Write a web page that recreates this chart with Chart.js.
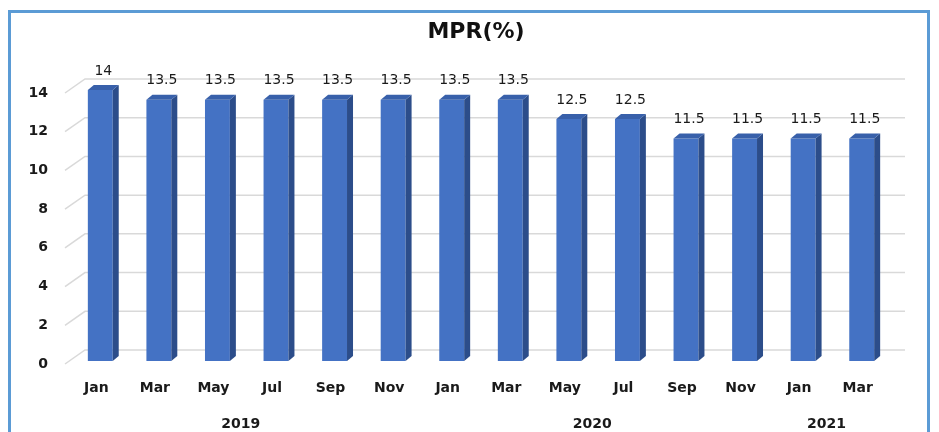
<!DOCTYPE html>
<html>
<head>
<meta charset="utf-8">
<script src="https://cdn.jsdelivr.net/npm/chart.js@4.4.1/dist/chart.umd.min.js"></script>
<style>
  html, body { margin: 0; padding: 0; background: #fff; }
  canvas { display: block; }
</style>
</head>
<body>
<canvas id="mprChart" width="939" height="432"></canvas>
<script>
// chart data
const months = ["Jan", "Mar", "May", "Jul", "Sep", "Nov", "Jan", "Mar", "May", "Jul", "Sep", "Nov", "Jan", "Mar"];
const mprValues = [14, 13.5, 13.5, 13.5, 13.5, 13.5, 13.5, 13.5, 12.5, 12.5, 11.5, 11.5, 11.5, 11.5];
const yearLabels = ["2019", "2020", "2021"];
const yearSpans = [[0, 5], [6, 11], [12, 13]];
const yTicks = [0, 2, 4, 6, 8, 10, 12, 14];

const FONT = "'DejaVu Sans', sans-serif";
const DEPTH_X = 6, DEPTH_Y = 5;   // bar depth
const WALL_X = 14, WALL_Y = 11;   // back wall offset

// frame, title, back wall gridlines
const backdropPlugin = {
  id: "backdrop",
  beforeDraw(chart) {
    const ctx = chart.ctx;
    ctx.save();
    ctx.fillStyle = "#fff";
    ctx.fillRect(0, 0, chart.width, chart.height);
    ctx.strokeStyle = "#5B9BD5";
    ctx.lineWidth = 3;
    ctx.strokeRect(9.5, 11.5, 919, 460);
    ctx.fillStyle = "#111";
    ctx.font = "bold 22px " + FONT;
    ctx.textAlign = "center";
    ctx.textBaseline = "middle";
    ctx.fillText("MPR(%)", 476, 32);
    ctx.restore();
  },
  beforeDatasetsDraw(chart) {
    const { ctx, chartArea, scales } = chart;
    ctx.save();
    ctx.strokeStyle = "#D9D9D9";
    ctx.lineWidth = 1.5;
    yTicks.forEach((v) => {
      const y = scales.y.getPixelForValue(v);
      ctx.beginPath();
      ctx.moveTo(chartArea.left - 6, y + 3);
      ctx.lineTo(chartArea.left + WALL_X, y - WALL_Y);
      ctx.lineTo(chartArea.right + WALL_X, y - WALL_Y);
      ctx.stroke();
    });
    ctx.restore();
  },
  afterDatasetsDraw(chart) {
    const { ctx, scales } = chart;
    const meta = chart.getDatasetMeta(0);
    ctx.save();
    meta.data.forEach((bar, i) => {
      const half = bar.width / 2;
      const l = bar.x - half, r = bar.x + half;
      // side face
      ctx.fillStyle = "#2C4D8A";
      ctx.beginPath();
      ctx.moveTo(r, bar.y);
      ctx.lineTo(r + DEPTH_X, bar.y - DEPTH_Y);
      ctx.lineTo(r + DEPTH_X, bar.base - DEPTH_Y);
      ctx.lineTo(r, bar.base);
      ctx.closePath();
      ctx.fill();
      // top face
      ctx.fillStyle = "#3860AA";
      ctx.beginPath();
      ctx.moveTo(l, bar.y);
      ctx.lineTo(l + DEPTH_X, bar.y - DEPTH_Y);
      ctx.lineTo(r + DEPTH_X, bar.y - DEPTH_Y);
      ctx.lineTo(r, bar.y);
      ctx.closePath();
      ctx.fill();
      // value label
      ctx.fillStyle = "#1a1a1a";
      ctx.font = "14px " + FONT;
      ctx.textAlign = "center";
      ctx.textBaseline = "middle";
      ctx.fillText(String(mprValues[i]), bar.x + 3, bar.y - 19);
    });
    // year labels
    ctx.font = "bold 14px " + FONT;
    ctx.fillStyle = "#1a1a1a";
    yearLabels.forEach((label, k) => {
      const [a, b] = yearSpans[k];
      const x = (scales.x.getPixelForValue(a) + scales.x.getPixelForValue(b)) / 2 - 6;
      ctx.fillText(label, x, 424);
    });
    ctx.restore();
  }
};

const chart = new Chart(document.getElementById("mprChart"), {
  type: "bar",
  data: {
    labels: months,
    datasets: [
      {
        label: "MPR(%)",
        data: mprValues,
        backgroundColor: "#4472C4",
        borderWidth: 0,
        barPercentage: 0.85,
        categoryPercentage: 0.5,
      },
    ],
  },
  options: {
    responsive: false,
    animation: false,
    layout: { padding: { top: 90, right: 48, bottom: 25, left: 0 } },
    plugins: {
      legend: { display: false },
      title: { display: false },
      tooltip: { enabled: false },
    },
    scales: {
      x: {
        grid: { display: false, drawTicks: false },
        border: { display: false },
        afterFit(scale) { scale.height = 46; },
        ticks: {
          padding: 19,
          labelOffset: -4,
          color: "#1a1a1a",
          font: { family: FONT, size: 14, weight: "bold" },
        },
      },
      y: {
        min: 0,
        max: 14,
        grid: { display: false, drawTicks: false },
        border: { display: false },
        afterFit(scale) { scale.width = 71; },
        afterBuildTicks(scale) { scale.ticks = yTicks.map((v) => ({ value: v })); },
        ticks: {
          padding: 23,
          labelOffset: 3,
          color: "#1a1a1a",
          font: { family: FONT, size: 14, weight: "bold" },
        },
      },
    },
  },
  plugins: [backdropPlugin],
});
</script>
</body>
</html>
